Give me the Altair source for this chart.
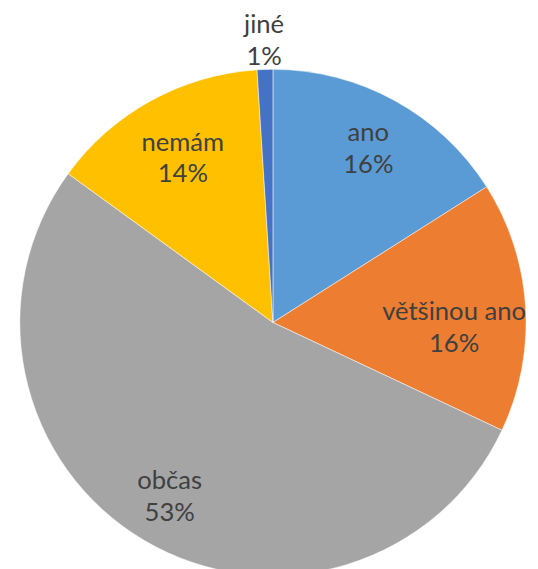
import altair as alt
import pandas as pd

categories = ["ano", "většinou ano", "občas", "nemám", "jiné"]
values = [16, 16, 53, 14, 1]
colors = ["#5B9BD5", "#ED7D31", "#A5A5A5", "#FFC000", "#4472C4"]
# label placement styling (radius in px, angular shift in value units)
label_radius = [201, 184, 206, 190, 286]
label_shift = [0, 1.5, 0, 0, 0]

df = pd.DataFrame({
    "kategorie": categories,
    "hodnota": values,
    "poradi": list(range(len(categories))),
    "lr": label_radius,
    "posun": label_shift,
})
df["popisek"] = df["kategorie"] + "\n" + df["hodnota"].astype(str) + "%"

total = sum(values)
cx, cy = 269, 315

pie = alt.Chart(df).mark_arc(radius=257, stroke="white", strokeWidth=0.5).encode(
    theta=alt.Theta("hodnota:Q", stack=True),
    order=alt.Order("poradi:Q"),
    color=alt.Color("kategorie:N", scale=alt.Scale(domain=categories, range=colors), legend=None),
    x=alt.value(cx),
    y=alt.value(cy),
)

labels = alt.Chart(df).transform_window(
    kum="sum(hodnota)", sort=[alt.SortField("poradi")]
).transform_calculate(
    stred="datum.kum - datum.hodnota / 2 + datum.posun"
).mark_text(
    font="Lato", fontSize=26, color="#404040", lineBreak="\n", lineHeight=32,
    align="center", baseline="middle", dy=-16
).encode(
    theta=alt.Theta("stred:Q", stack=None, scale=alt.Scale(domain=[0, total], range=[0, 6.283185307179586])),
    radius=alt.Radius("lr:Q", scale=None),
    text="popisek:N",
    x=alt.value(cx),
    y=alt.value(cy),
)

chart = (pie + labels).properties(
    width=530, height=561, padding=0, autosize="none"
).configure(background="white").configure_view(stroke=None)

chart.save("out.html", embed_options={"renderer": "svg", "actions": False})
